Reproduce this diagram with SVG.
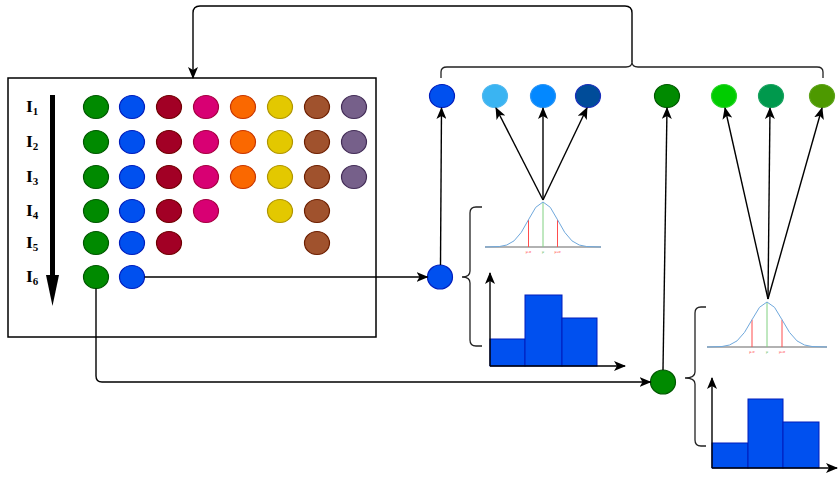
<svg xmlns="http://www.w3.org/2000/svg" width="838" height="482" viewBox="0 0 838 482">
<defs>
<marker id="arr" viewBox="0 0 12 10" refX="11" refY="5" markerWidth="12" markerHeight="10" markerUnits="userSpaceOnUse" orient="auto">
<path d="M0,0 L12,5 L0,10 L3,5 Z" fill="#000"/>
</marker>
</defs>
<style>
.n{stroke-width:1.2}
.g{fill:#008a00;stroke:#005700}
.b{fill:#0050ef;stroke:#001dbc}
.r{fill:#a20025;stroke:#6f0000}
.p{fill:#d80073;stroke:#a50040}
.o{fill:#fa6800;stroke:#c73500}
.y{fill:#e3c800;stroke:#b09500}
.w{fill:#a0522d;stroke:#6d1f00}
.v{fill:#76608a;stroke:#432d57}
.c{fill:none;stroke:#000;stroke-width:1.4}
.ca{fill:none;stroke:#000;stroke-width:1.4;marker-end:url(#arr)}
.br{fill:none;stroke:#222;stroke-width:1.3}
.lab{font-family:"Liberation Serif",serif;font-weight:bold;font-size:17.5px;fill:#000}
.bar{fill:#0050ef;stroke:#001dbc;stroke-width:1}
.gc{fill:none;stroke:#6fa8dc;stroke-width:1}
.gb{stroke:#666;stroke-width:1.2}
.gr{stroke:#ff4d4d;stroke-width:1}
.gg{stroke:#80d080;stroke-width:1}
.tl{font-family:"Liberation Sans",sans-serif;font-size:3.5px;text-anchor:middle}
</style>
<rect width="838" height="482" fill="#fff"/>

<g id="panel">
<rect x="8" y="78" width="368" height="259" fill="none" stroke="#000" stroke-width="1.5"/>
<line x1="52.5" y1="95" x2="52.5" y2="278" stroke="#000" stroke-width="5"/>
<polygon points="46,275 59,275 52.5,306" fill="#000"/>
<text class="lab" x="26" y="112">I<tspan font-size="11" dy="3">1</tspan></text>
<text class="lab" x="26" y="147">I<tspan font-size="11" dy="3">2</tspan></text>
<text class="lab" x="26" y="182">I<tspan font-size="11" dy="3">3</tspan></text>
<text class="lab" x="26" y="216">I<tspan font-size="11" dy="3">4</tspan></text>
<text class="lab" x="26" y="248">I<tspan font-size="11" dy="3">5</tspan></text>
<text class="lab" x="26" y="282">I<tspan font-size="11" dy="3">6</tspan></text>
</g>

<g id="row1">
<ellipse class="n g" cx="96" cy="107" rx="12.5" ry="11.5"/>
<ellipse class="n b" cx="132" cy="107" rx="12.5" ry="11.5"/>
<ellipse class="n r" cx="169" cy="107" rx="12.5" ry="11.5"/>
<ellipse class="n p" cx="206" cy="107" rx="12.5" ry="11.5"/>
<ellipse class="n o" cx="243" cy="107" rx="12.5" ry="11.5"/>
<ellipse class="n y" cx="280" cy="107" rx="12.5" ry="11.5"/>
<ellipse class="n w" cx="317" cy="107" rx="12.5" ry="11.5"/>
<ellipse class="n v" cx="354" cy="107" rx="12.5" ry="11.5"/>
</g>
<g id="row2">
<ellipse class="n g" cx="96" cy="142" rx="12.5" ry="11.5"/>
<ellipse class="n b" cx="132" cy="142" rx="12.5" ry="11.5"/>
<ellipse class="n r" cx="169" cy="142" rx="12.5" ry="11.5"/>
<ellipse class="n p" cx="206" cy="142" rx="12.5" ry="11.5"/>
<ellipse class="n o" cx="243" cy="142" rx="12.5" ry="11.5"/>
<ellipse class="n y" cx="280" cy="142" rx="12.5" ry="11.5"/>
<ellipse class="n w" cx="317" cy="142" rx="12.5" ry="11.5"/>
<ellipse class="n v" cx="354" cy="142" rx="12.5" ry="11.5"/>
</g>
<g id="row3">
<ellipse class="n g" cx="96" cy="177" rx="12.5" ry="11.5"/>
<ellipse class="n b" cx="132" cy="177" rx="12.5" ry="11.5"/>
<ellipse class="n r" cx="169" cy="177" rx="12.5" ry="11.5"/>
<ellipse class="n p" cx="206" cy="177" rx="12.5" ry="11.5"/>
<ellipse class="n o" cx="243" cy="177" rx="12.5" ry="11.5"/>
<ellipse class="n y" cx="280" cy="177" rx="12.5" ry="11.5"/>
<ellipse class="n w" cx="317" cy="177" rx="12.5" ry="11.5"/>
<ellipse class="n v" cx="354" cy="177" rx="12.5" ry="11.5"/>
</g>
<g id="row4">
<ellipse class="n g" cx="96" cy="211" rx="12.5" ry="11.5"/>
<ellipse class="n b" cx="132" cy="211" rx="12.5" ry="11.5"/>
<ellipse class="n r" cx="169" cy="211" rx="12.5" ry="11.5"/>
<ellipse class="n p" cx="206" cy="211" rx="12.5" ry="11.5"/>
<ellipse class="n y" cx="280" cy="211" rx="12.5" ry="11.5"/>
<ellipse class="n w" cx="317" cy="211" rx="12.5" ry="11.5"/>
</g>
<g id="row5">
<ellipse class="n g" cx="96" cy="243" rx="12.5" ry="11.5"/>
<ellipse class="n b" cx="132" cy="243" rx="12.5" ry="11.5"/>
<ellipse class="n r" cx="169" cy="243" rx="12.5" ry="11.5"/>
<ellipse class="n w" cx="317" cy="243" rx="12.5" ry="11.5"/>
</g>
<g id="row6">
<ellipse id="g6" class="n g" cx="96" cy="277" rx="12.5" ry="11.5"/>
<ellipse id="b6" class="n b" cx="132" cy="277" rx="12.5" ry="11.5"/>
</g>

<g id="blue-mid"><ellipse class="n b" cx="440" cy="277" rx="12.5" ry="12"/></g>
<g id="green-mid"><ellipse class="n g" cx="663" cy="382" rx="12.5" ry="12"/></g>

<g id="top-blue">
<ellipse class="n" cx="442" cy="96" rx="12.5" ry="11.5" fill="#0050ef" stroke="#001dbc"/>
<ellipse class="n" cx="495" cy="96" rx="12.5" ry="11.5" fill="#3ab4f2" stroke="#52b8ef"/>
<ellipse class="n" cx="543" cy="96" rx="12.5" ry="11.5" fill="#0388ff" stroke="#2b95f5"/>
<ellipse class="n" cx="588" cy="96" rx="12.5" ry="11.5" fill="#004c99" stroke="#1a2fbc"/>
</g>
<g id="top-green">
<ellipse class="n" cx="667" cy="96" rx="12.5" ry="11.5" fill="#008a00" stroke="#005700"/>
<ellipse class="n" cx="724" cy="96" rx="12.5" ry="11.5" fill="#00cc00" stroke="#2cd42c"/>
<ellipse class="n" cx="771" cy="96" rx="12.5" ry="11.5" fill="#00994d" stroke="#1aa360"/>
<ellipse class="n" cx="822" cy="96" rx="12.5" ry="11.5" fill="#4d9900" stroke="#5ea31a"/>
</g>

<g id="gauss1">
<line class="gb" x1="485" y1="247" x2="601" y2="247"/>
<line class="gr" x1="528.5" y1="219.7" x2="528.5" y2="247"/>
<line class="gr" x1="557.5" y1="219.7" x2="557.5" y2="247"/>
<line class="gg" x1="543" y1="202" x2="543" y2="247"/>
<polyline class="gc" stroke-linejoin="round" points="485,247 499.5,246.5 506.75,245 514,240.9 521.25,232.4 528.5,219.7 535.75,207.3 543,202 550.25,207.3 557.5,219.7 564.75,232.4 572,240.9 579.25,245 586.5,246.5 601,247"/>
<text class="tl" x="528.5" y="252.5" fill="#ff4d4d">μ-σ</text>
<text class="tl" x="543" y="252.5" fill="#60c060">μ</text>
<text class="tl" x="557.5" y="252.5" fill="#ff4d4d">μ+σ</text>
</g>
<g id="gauss2">
<line class="gb" x1="707" y1="347" x2="827" y2="347"/>
<line class="gr" x1="752" y1="319.7" x2="752" y2="347"/>
<line class="gr" x1="782" y1="319.7" x2="782" y2="347"/>
<line class="gg" x1="767" y1="302" x2="767" y2="347"/>
<polyline class="gc" stroke-linejoin="round" points="707,347 722,346.5 729.5,345 737,340.9 744.5,332.4 752,319.7 759.5,307.3 767,302 774.5,307.3 782,319.7 789.5,332.4 797,340.9 804.5,345 812,346.5 827,347"/>
<text class="tl" x="752" y="352.5" fill="#ff4d4d">μ-σ</text>
<text class="tl" x="767" y="352.5" fill="#60c060">μ</text>
<text class="tl" x="782" y="352.5" fill="#ff4d4d">μ+σ</text>
</g>

<g id="hist1">
<rect class="bar" x="490" y="339" width="35" height="27"/>
<rect class="bar" x="525" y="295" width="37" height="71"/>
<rect class="bar" x="562" y="318" width="35" height="48"/>
<line class="ca" x1="490" y1="366" x2="490" y2="273"/>
<line class="ca" x1="490" y1="366" x2="625" y2="366"/>
</g>
<g id="hist2">
<rect class="bar" x="712" y="443" width="36" height="25"/>
<rect class="bar" x="748" y="399" width="35" height="69"/>
<rect class="bar" x="783" y="422" width="36" height="46"/>
<line class="ca" x1="712" y1="468" x2="712" y2="378"/>
<line class="ca" x1="712" y1="468" x2="837" y2="468"/>
</g>

<g id="braces">
<path class="br" d="M441,78 L441,72 Q441,67 447,67 L626,67 Q632,67 632,62 Q632,67 638,67 L817,67 Q823,67 823,72 L823,78"/>
<path class="br" d="M482,207 L476,207 Q470,207 470,213 L470,271 Q470,277 462,277 Q470,277 470,283 L470,340 Q470,346 476,346 L482,346"/>
<path class="br" d="M706,307 L701,307 Q695,307 695,313 L695,372 Q695,378 685,378 Q695,378 695,384 L695,440 Q695,446 701,446 L706,446"/>
</g>

<g id="connectors">
<path class="ca" d="M632,62 L632,13 Q632,6 625,6 L200,6 Q193,6 193,13 L193,78"/>
<line class="ca" x1="144.5" y1="277" x2="427.5" y2="277"/>
<path class="ca" d="M96,288.5 L96,376 Q96,382 102,382 L650.5,382"/>
<line class="ca" x1="440.5" y1="265" x2="441.5" y2="108"/>
<line class="ca" x1="663" y1="370" x2="667" y2="108"/>
<line class="ca" x1="543" y1="200" x2="496" y2="108"/>
<line class="ca" x1="543" y1="200" x2="543" y2="108"/>
<line class="ca" x1="543" y1="200" x2="587" y2="108"/>
<line class="ca" x1="768" y1="299" x2="725" y2="108"/>
<line class="ca" x1="768" y1="299" x2="770" y2="108"/>
<line class="ca" x1="768" y1="299" x2="822" y2="108"/>
</g>
</svg>
